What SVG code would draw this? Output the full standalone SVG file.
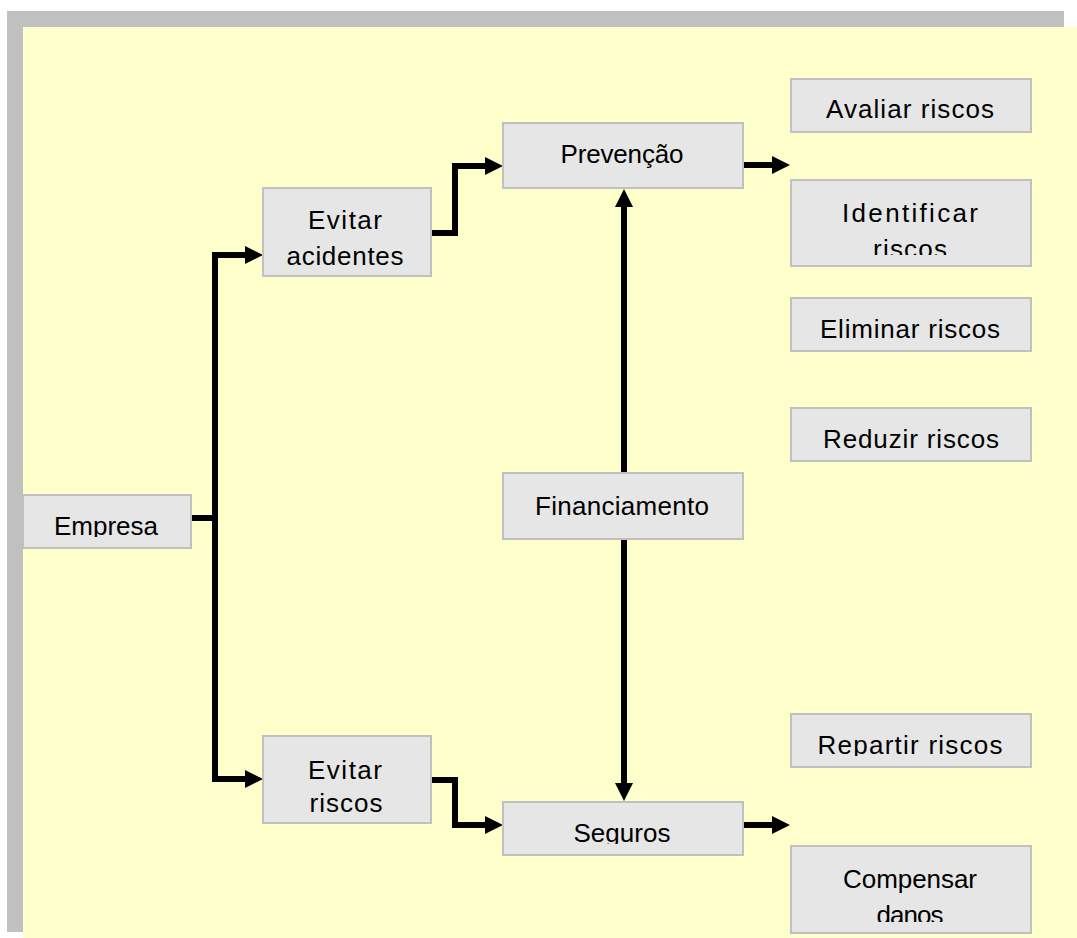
<svg xmlns="http://www.w3.org/2000/svg" width="1077" height="938" viewBox="0 0 1077 938">
  <style>
    .box { fill: #e6e6e6; stroke: #c0c0c0; stroke-width: 2; }
    .lbl { font-family: "Liberation Sans", Arial, sans-serif; font-size: 26px; fill: #000; text-anchor: middle; }
    .wire { fill: none; stroke: #000; stroke-width: 6; stroke-linejoin: miter; }
    .arrow { marker-end: url(#head); }
  </style>
  <defs>
    <marker id="head" viewBox="0 -9 18 18" refX="1" refY="0" markerWidth="18" markerHeight="18" markerUnits="userSpaceOnUse" orient="auto">
      <path d="M0,-9 L18,0 L0,9 Z" fill="#000"/>
    </marker>
    <!-- text areas: each label is cut off a little above its box bottom -->
    <clipPath id="c-empresa"><rect x="23" y="495" width="168" height="42"/></clipPath>
    <clipPath id="c-acid"><rect x="263" y="188" width="168" height="77"/></clipPath>
    <clipPath id="c-risc"><rect x="263" y="736" width="168" height="76"/></clipPath>
    <clipPath id="c-prev"><rect x="503" y="123" width="240" height="54"/></clipPath>
    <clipPath id="c-fin"><rect x="503" y="473" width="240" height="55"/></clipPath>
    <clipPath id="c-seg"><rect x="503" y="802" width="240" height="42"/></clipPath>
    <clipPath id="c-aval"><rect x="791" y="79" width="240" height="42"/></clipPath>
    <clipPath id="c-ident"><rect x="791" y="180" width="240" height="75"/></clipPath>
    <clipPath id="c-elim"><rect x="791" y="298" width="240" height="42"/></clipPath>
    <clipPath id="c-red"><rect x="791" y="408" width="240" height="42"/></clipPath>
    <clipPath id="c-rep"><rect x="791" y="714" width="240" height="42"/></clipPath>
    <clipPath id="c-comp"><rect x="791" y="846" width="240" height="76"/></clipPath>
  </defs>

  <!-- page frame and shadow -->
  <rect x="7" y="11" width="1057" height="921" fill="#c0c0c0"/>
  <rect x="23" y="27" width="1054" height="911" fill="#ffffcc"/>

  <g id="connectors">
    <!-- Empresa branches -->
    <path class="wire" d="M191,518 H215"/>
    <path class="wire" d="M215,252 V782"/>
    <path class="wire arrow" d="M212,255 H246"/>
    <path class="wire arrow" d="M212,779 H246"/>
    <!-- Evitar acidentes -> Prevenção -->
    <path class="wire arrow" d="M431,233 H455 V166 H486"/>
    <!-- Evitar riscos -> Seguros -->
    <path class="wire arrow" d="M431,780 H455 V825 H486"/>
    <!-- Prevenção / Seguros outputs -->
    <path class="wire arrow" d="M743,165 H773"/>
    <path class="wire arrow" d="M743,825 H773"/>
    <!-- Financiamento up and down -->
    <path class="wire arrow" d="M624,473 V206"/>
    <path class="wire arrow" d="M624,539 V784"/>
  </g>

  <g id="empresa">
    <rect class="box" x="23" y="495" width="168" height="53"/>
    <text class="lbl" x="106" y="535" textLength="104" clip-path="url(#c-empresa)">Empresa</text>
  </g>
  <g id="evitar-acidentes">
    <rect class="box" x="263" y="188" width="168" height="88"/>
    <g clip-path="url(#c-acid)">
      <text class="lbl" x="345" y="229" textLength="74">Evitar</text>
      <text class="lbl" x="345" y="265" textLength="117">acidentes</text>
    </g>
  </g>
  <g id="evitar-riscos">
    <rect class="box" x="263" y="736" width="168" height="87"/>
    <g clip-path="url(#c-risc)">
      <text class="lbl" x="345" y="779" textLength="74">Evitar</text>
      <text class="lbl" x="346" y="812" textLength="73">riscos</text>
    </g>
  </g>
  <g id="prevencao">
    <rect class="box" x="503" y="123" width="240" height="65"/>
    <text class="lbl" x="622" y="163" textLength="123" clip-path="url(#c-prev)">Prevenção</text>
  </g>
  <g id="financiamento">
    <rect class="box" x="503" y="473" width="240" height="66"/>
    <text class="lbl" x="622" y="515" textLength="174" clip-path="url(#c-fin)">Financiamento</text>
  </g>
  <g id="seguros">
    <rect class="box" x="503" y="802" width="240" height="53"/>
    <text class="lbl" x="622" y="842" textLength="97" clip-path="url(#c-seg)">Seguros</text>
  </g>
  <g id="avaliar-riscos">
    <rect class="box" x="791" y="79" width="240" height="53"/>
    <text class="lbl" x="910" y="118" textLength="168" clip-path="url(#c-aval)">Avaliar riscos</text>
  </g>
  <g id="identificar-riscos">
    <rect class="box" x="791" y="180" width="240" height="86"/>
    <g clip-path="url(#c-ident)">
      <text class="lbl" x="910" y="222" textLength="136">Identificar</text>
      <text class="lbl" x="910" y="258" textLength="74">riscos</text>
    </g>
  </g>
  <g id="eliminar-riscos">
    <rect class="box" x="791" y="298" width="240" height="53"/>
    <text class="lbl" x="910" y="338" textLength="180" clip-path="url(#c-elim)">Eliminar riscos</text>
  </g>
  <g id="reduzir-riscos">
    <rect class="box" x="791" y="408" width="240" height="53"/>
    <text class="lbl" x="911" y="448" textLength="176" clip-path="url(#c-red)">Reduzir riscos</text>
  </g>
  <g id="repartir-riscos">
    <rect class="box" x="791" y="714" width="240" height="53"/>
    <text class="lbl" x="910" y="754" textLength="185" clip-path="url(#c-rep)">Repartir riscos</text>
  </g>
  <g id="compensar-danos">
    <rect class="box" x="791" y="846" width="240" height="87"/>
    <g clip-path="url(#c-comp)">
      <text class="lbl" x="910" y="888" textLength="134">Compensar</text>
      <text class="lbl" x="910" y="924" textLength="67">danos</text>
    </g>
  </g>
</svg>
